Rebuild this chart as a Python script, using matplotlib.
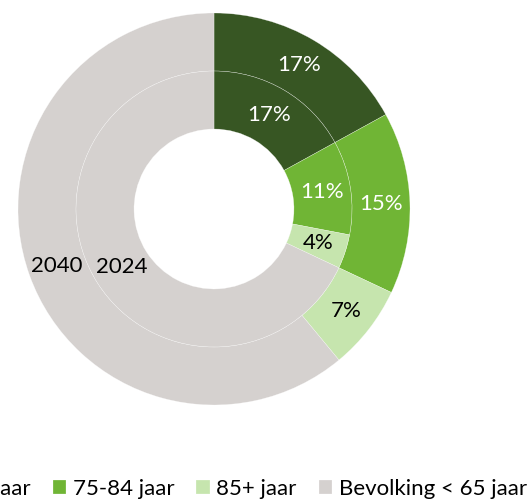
import numpy as np
import matplotlib.pyplot as plt

plt.rcParams['font.family'] = ['Lato', 'DejaVu Sans']

categories = ['65-74 jaar', '75-84 jaar', '85+ jaar', 'Bevolking < 65 jaar']
share_2040 = [17, 15, 7, 61]
share_2024 = [17, 11, 4, 68]
labels_2040 = ['17%', '15%', '7%', '2040']
labels_2024 = ['17%', '11%', '4%', '2024']

colors = ['#375623', '#70B535', '#C6E5AE', '#D5D1CF']
text_colors = ['white', 'white', 'black', 'black']

W, H = 532, 499
fig = plt.figure(figsize=(W / 100, H / 100), dpi=100)
# pie box in pixels: center (214, 209), radius 196
cx, cy, R = 214, 209, 196
ax = fig.add_axes([(cx - R) / W, (H - cy - R) / H, 2 * R / W, 2 * R / H])

ring_w = 0.296
inner_r = 1 - ring_w
edge = dict(edgecolor=(1, 1, 1, 0.6), linewidth=0.3)

wedges_out, _ = ax.pie(share_2040, radius=1, startangle=90, counterclock=False,
                       colors=colors, wedgeprops=dict(width=ring_w, **edge))
wedges_in, _ = ax.pie(share_2024, radius=inner_r, startangle=90, counterclock=False,
                      colors=colors, wedgeprops=dict(width=ring_w, **edge))


def put_labels(wedges, labels, r):
    for w, lab, tc in zip(wedges, labels, text_colors):
        ang = np.deg2rad((w.theta1 + w.theta2) / 2)
        ax.text(r * np.cos(ang), r * np.sin(ang), lab, ha='center', va='center',
                color=tc, fontsize=16)


put_labels(wedges_out, labels_2040, 1 - ring_w / 2)
put_labels(wedges_in, labels_2024, inner_r - ring_w / 2)

ax.set_xlim(-1, 1)
ax.set_ylim(-1, 1)
ax.axis('off')

fig.legend(wedges_out, categories, loc='center', bbox_to_anchor=(218 / W, 10 / H),
           ncol=4, frameon=False, fontsize=16, handlelength=0.6, handleheight=0.6,
           handletextpad=0.3, columnspacing=1.0)

fig.savefig('out.png', dpi=100)
